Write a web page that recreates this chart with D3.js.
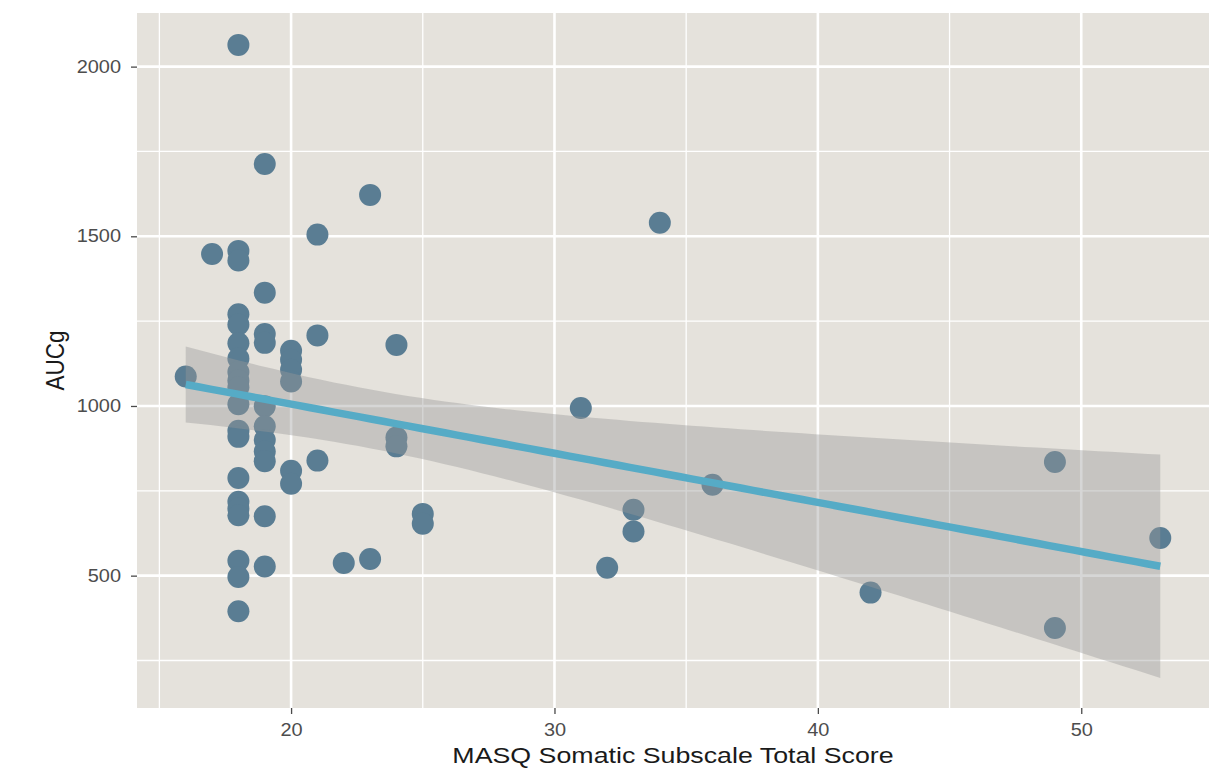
<!DOCTYPE html>
<html>
<head>
<meta charset="utf-8">
<script src="https://cdn.jsdelivr.net/npm/d3@7"></script>
<style>
  html, body { margin: 0; padding: 0; background: #ffffff; }
  svg { display: block; }
  text { font-family: "Liberation Sans", Arial, Helvetica, sans-serif; }
</style>
</head>
<body>
<svg id="chart" width="1231" height="775"></svg>
<script>
// ---- data ----
const masqScore = [
  16,
  17,
  18,18,18,18,18,18,18,18,18,18,18,18,18,18,18,18,18,18,18,18,
  19,19,19,19,19,19,19,19,19,19,19,
  20,20,20,20,20,20,
  21,21,21,
  22,
  23,23,
  24,24,24,
  25,25,
  31,
  32,
  33,33,
  34,
  36,
  42,
  49,49,
  53
];
const aucg = [
  1087,
  1448,
  2064,1457,1429,1270,1240,1185,1140,1100,1075,1055,1005,927,909,788,718,698,678,544,496,395,
  1713,1334,1212,1186,999,940,900,866,837,675,527,
  1163,1136,1107,1072,809,771,
  1505,1208,839,
  537,
  1622,549,
  1180,907,881,
  682,653,
  994,
  523,
  694,630,
  1540,
  768,
  450,
  835,346,
  611
];
const xMajorTicks = [20, 30, 40, 50];
const xMinorTicks = [15, 25, 35, 45];
const yMajorTicks = [500, 1000, 1500, 2000];
const yMinorTicks = [250, 750, 1250, 1750];
const xTitle = "MASQ Somatic Subscale Total Score";
const yTitle = "AUCg";

// ---- layout ----
const W = 1231, H = 775;
const panel = { left: 137, right: 1209, top: 13, bottom: 708 };
const xDomain = [14.15, 54.85];
const yDomain = [110, 2158];

const svg = d3.select("#chart");
const x = d3.scaleLinear().domain(xDomain).range([panel.left, panel.right]);
const y = d3.scaleLinear().domain(yDomain).range([panel.bottom, panel.top]);

// ---- linear model (geom_smooth method = "lm") ----
const pts = masqScore.map((s, i) => ({ x: s, y: aucg[i] }));
const n = pts.length;
const mx = d3.mean(pts, d => d.x), my = d3.mean(pts, d => d.y);
const sxx = d3.sum(pts, d => (d.x - mx) ** 2);
const sxy = d3.sum(pts, d => (d.x - mx) * (d.y - my));
const slope = sxy / sxx, intercept = my - slope * mx;
const rss = d3.sum(pts, d => (d.y - (intercept + slope * d.x)) ** 2);
const sigma = Math.sqrt(rss / (n - 2));
function qt975(df) {
  const z = 1.959964;
  return z + (z ** 3 + z) / (4 * df) + (5 * z ** 5 + 16 * z ** 3 + 3 * z) / (96 * df * df);
}
const tq = qt975(n - 2);
const [x0, x1] = d3.extent(pts, d => d.x);
const fit = d3.range(80).map(i => {
  const xv = x0 + (x1 - x0) * i / 79;
  const yh = intercept + slope * xv;
  const se = sigma * Math.sqrt(1 / n + (xv - mx) ** 2 / sxx);
  return { x: xv, y: yh, lo: yh - tq * se, hi: yh + tq * se };
});

// ---- panel ----
svg.append("rect")
  .attr("x", panel.left).attr("y", panel.top)
  .attr("width", panel.right - panel.left).attr("height", panel.bottom - panel.top)
  .attr("fill", "#E5E2DC");

const grid = svg.append("g");
grid.selectAll(".ymin").data(yMinorTicks).join("line")
  .attr("x1", panel.left).attr("x2", panel.right)
  .attr("y1", d => y(d)).attr("y2", d => y(d))
  .attr("stroke", "#ffffff").attr("stroke-width", 1.3);
grid.selectAll(".xmin").data(xMinorTicks).join("line")
  .attr("y1", panel.top).attr("y2", panel.bottom)
  .attr("x1", d => x(d)).attr("x2", d => x(d))
  .attr("stroke", "#ffffff").attr("stroke-width", 1.3);
grid.selectAll(".ymaj").data(yMajorTicks).join("line")
  .attr("x1", panel.left).attr("x2", panel.right)
  .attr("y1", d => y(d)).attr("y2", d => y(d))
  .attr("stroke", "#ffffff").attr("stroke-width", 2.6);
grid.selectAll(".xmaj").data(xMajorTicks).join("line")
  .attr("y1", panel.top).attr("y2", panel.bottom)
  .attr("x1", d => x(d)).attr("x2", d => x(d))
  .attr("stroke", "#ffffff").attr("stroke-width", 2.6);

// ---- points ----
svg.append("g").selectAll("circle").data(pts).join("circle")
  .attr("cx", d => x(d.x)).attr("cy", d => y(d.y)).attr("r", 11)
  .attr("fill", "#5A7D93");

// ---- ribbon + line ----
svg.append("path").datum(fit)
  .attr("d", d3.area().x(d => x(d.x)).y0(d => y(d.lo)).y1(d => y(d.hi)))
  .attr("fill", "#999999").attr("fill-opacity", 0.4);
svg.append("path").datum(fit)
  .attr("d", d3.line().x(d => x(d.x)).y(d => y(d.y)))
  .attr("fill", "none").attr("stroke", "#56ABC6").attr("stroke-width", 7.5);

// ---- axes ----
const tickFont = 17.5, tickScale = 1.14;
const yAxis = svg.append("g").attr("transform", `translate(${panel.left},0)`)
  .call(d3.axisLeft(y).tickValues(yMajorTicks).tickSize(6).tickPadding(8).tickFormat(d3.format("d")));
const xAxis = svg.append("g").attr("transform", `translate(0,${panel.bottom})`)
  .call(d3.axisBottom(x).tickValues(xMajorTicks).tickSize(6).tickPadding(10).tickFormat(d3.format("d")));
[yAxis, xAxis].forEach(a => {
  a.select(".domain").remove();
  a.selectAll(".tick line").attr("stroke", "#4a4a4a").attr("stroke-width", 1.3);
  a.selectAll(".tick text").attr("fill", "#4D4D4D")
    .style("font-size", tickFont + "px")
    .style("font-family", '"Liberation Sans", Arial, sans-serif')
    .attr("transform", `scale(${tickScale},1)`);
});

// ---- titles ----
svg.append("g").attr("transform", `translate(${(panel.left + panel.right) / 2},763)`)
  .append("text").attr("text-anchor", "middle")
  .attr("transform", "scale(1.19,1)")
  .style("font-size", "22.5px").attr("fill", "#1a1a1a").text(xTitle);

svg.append("g").attr("transform", `translate(64,${(panel.top + panel.bottom) / 2}) rotate(-90)`)
  .append("text").attr("text-anchor", "middle")
  .attr("transform", "scale(1,1.17)")
  .style("font-size", "22.5px").attr("fill", "#1a1a1a").text(yTitle);
</script>
</body>
</html>
